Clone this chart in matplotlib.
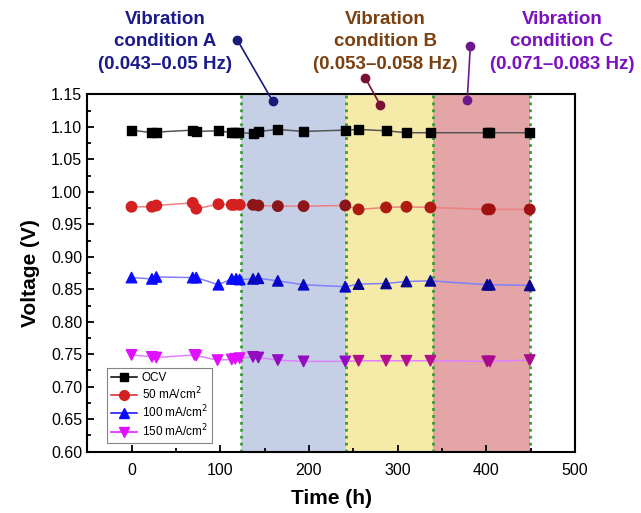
import numpy as np
import matplotlib
matplotlib.use("Agg")
import matplotlib.pyplot as plt
from matplotlib.colors import to_rgb

plt.rcParams['font.family'] = ['Liberation Sans', 'DejaVu Sans']

# data
t_ocv = [0, 23, 28, 69, 73, 98, 113, 116, 121, 137, 143, 165, 194, 241, 256, 287, 310, 337, 401, 404, 449]
v_ocv = [1.095, 1.091, 1.092, 1.095, 1.093, 1.094, 1.091, 1.091, 1.091, 1.090, 1.093, 1.096, 1.093,
         1.095, 1.096, 1.094, 1.091, 1.091, 1.091, 1.091, 1.091]

t_50 = [0, 23, 28, 69, 73, 98, 113, 116, 122, 137, 143, 165, 194, 241, 256, 287, 310, 337, 401, 404, 449]
v_50 = [0.977, 0.977, 0.979, 0.983, 0.974, 0.981, 0.980, 0.980, 0.980, 0.980, 0.979, 0.978, 0.978,
        0.979, 0.973, 0.976, 0.977, 0.976, 0.973, 0.973, 0.973]

t_100 = [0, 23, 28, 69, 73, 98, 113, 118, 122, 137, 143, 165, 194, 241, 256, 287, 310, 337, 401, 404, 449]
v_100 = [0.868, 0.866, 0.869, 0.868, 0.868, 0.857, 0.866, 0.866, 0.865, 0.866, 0.867, 0.863, 0.857,
         0.854, 0.858, 0.859, 0.862, 0.863, 0.857, 0.857, 0.856]

t_150 = [0, 23, 28, 71, 73, 97, 113, 117, 122, 137, 143, 165, 194, 241, 256, 287, 310, 337, 401, 404, 449]
v_150 = [0.749, 0.746, 0.745, 0.749, 0.748, 0.741, 0.742, 0.743, 0.744, 0.746, 0.745, 0.741, 0.739,
         0.739, 0.740, 0.740, 0.740, 0.740, 0.739, 0.739, 0.741]

# vibration periods (h)
zones = [(123.5, 241.5), (241.5, 339.5), (339.5, 449.5)]
zone_colors = ['#c5d0e6', '#f6eaa8', '#e3a5a6']

labels = ['OCV', '50 mA/cm$^2$', '100 mA/cm$^2$', '150 mA/cm$^2$']

fig = plt.figure(figsize=(6.41, 5.13), dpi=100)
ax = fig.add_axes([0.136, 0.1195, 0.761, 0.6965])

for (a, b), c in zip(zones, zone_colors):
    ax.axvspan(a, b, color=c, zorder=0, lw=0)
for x in sorted(set([z for pair in zones for z in pair])):
    ax.axvline(x, color='#3a9a3a', ls=(0, (1, 1.5)), lw=2, zorder=1)


def tint(col, t):
    # multiply the marker colour with the shading it sits in
    base = np.array(to_rgb(col))
    for (a, b), zc in zip(zones, zone_colors):
        if a <= t <= b:
            return tuple(base * np.array(to_rgb(zc)) * 0.85)
    return tuple(base)


series = [
    (t_ocv, v_ocv, 's', '#000000', '#555555', 6.5),
    (t_50, v_50, 'o', '#d42020', '#ee8080', 7.5),
    (t_100, v_100, '^', '#0a0aff', '#8080ff', 7.5),
    (t_150, v_150, 'v', '#e010ff', '#e080ff', 7.5),
]

for (t, v, m, col, lcol, ms), lab in zip(series, labels):
    ax.plot(t, v, color=lcol, lw=1.1, zorder=2)
    cols = [tint(col, ti) for ti in t]
    ax.scatter(t, v, marker=m, s=ms ** 2, c=cols, edgecolors=cols, zorder=3)
    ax.plot([], [], color=col, marker=m, ms=ms - 0.5, lw=1.1, label=lab)

ax.set_xlim(-50, 500)
ax.set_ylim(0.60, 1.15)
ax.set_xticks(np.arange(0, 501, 100))
ax.set_xticks(np.arange(-50, 501, 50), minor=True)
ax.set_yticks(np.arange(0.60, 1.151, 0.05))
ax.set_yticks(np.arange(0.60, 1.151, 0.025), minor=True)
ax.set_yticklabels(['%.2f' % y for y in np.arange(0.60, 1.151, 0.05)])
ax.tick_params(which='both', direction='in', labelsize=11.5, width=1.3)
ax.tick_params(which='major', length=5)
ax.tick_params(which='minor', length=3)
ax.tick_params(axis='x', pad=8)
for s in ax.spines.values():
    s.set_linewidth(1.5)

ax.set_xlabel('Time (h)', fontsize=15, fontweight='bold', labelpad=8)
ax.set_ylabel('Voltage (V)', fontsize=15, fontweight='bold', labelpad=8)

leg = ax.legend(loc='lower left', bbox_to_anchor=(0.04, 0.024), borderaxespad=0, fontsize=8.5,
                frameon=True, fancybox=False, edgecolor='#666666', handlelength=2.2,
                borderpad=0.35, labelspacing=0.15, handletextpad=0.4)
leg.get_frame().set_linewidth(0.8)

# condition callouts: text centre (fig px), line start and end (data)
callouts = [
    ('Vibration\ncondition A\n(0.043–0.05 Hz)', 165, '#1a1a8c', '#1a1a7a', (119.4, 1.2335), (159, 1.140)),
    ('Vibration\ncondition B\n(0.053–0.058 Hz)', 385, '#7a4010', '#7a1035', (263.7, 1.175), (280.5, 1.1335)),
    ('Vibration\ncondition C\n(0.071–0.083 Hz)', 562, '#7a10c0', '#6a1a8a', (382, 1.224), (378.5, 1.141)),
]
for txt, xc, tcol, lcol, p0, p1 in callouts:
    fig.text(xc / 641, 1 - 42 / 513, txt, ha='center', va='center', fontsize=13.5,
             fontweight='bold', color=tcol, linespacing=1.42)
    ax.plot([p0[0], p1[0]], [p0[1], p1[1]], color=lcol, lw=1.2, marker='o', ms=6,
            clip_on=False, zorder=5)

fig.savefig('out.png', dpi=100)
